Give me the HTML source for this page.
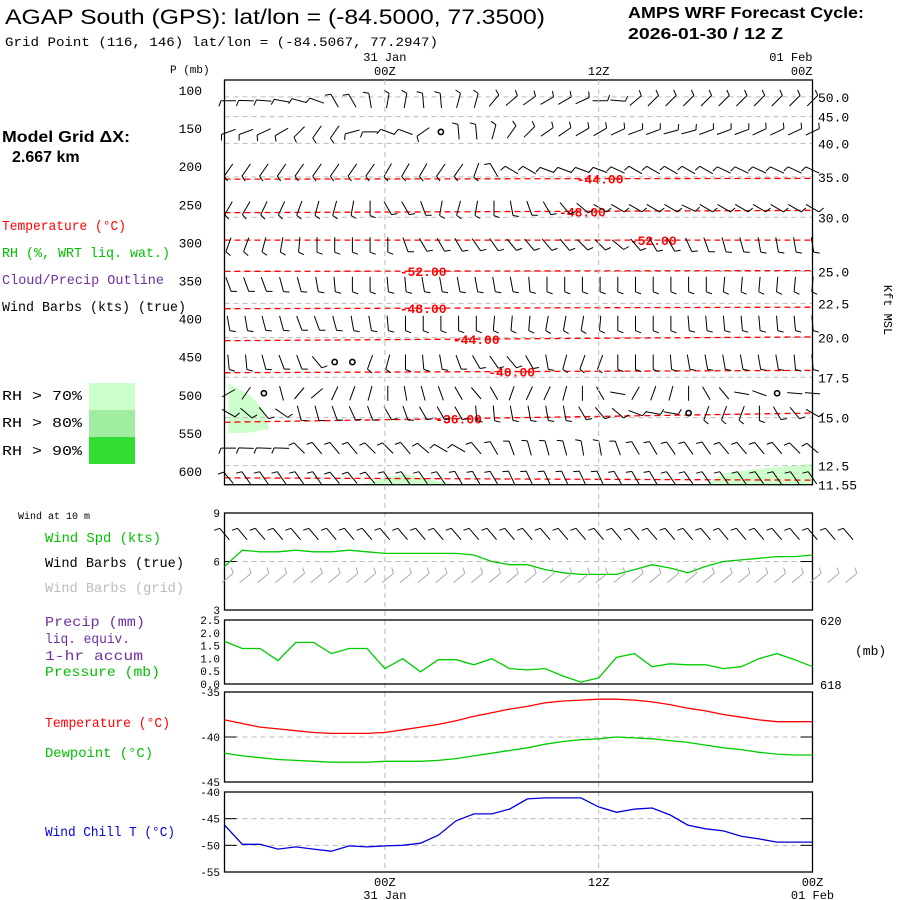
<!DOCTYPE html>
<html><head><meta charset="utf-8"><style>
html,body{margin:0;padding:0;background:#fff;}
svg{display:block;}
.m{font-family:"Liberation Mono",monospace;}
.s{font-family:"Liberation Sans",sans-serif;}
</style></head><body>
<svg id="c" width="900" height="900" viewBox="0 0 900 900" xmlns="http://www.w3.org/2000/svg">
<g>
<text class="s" x="5" y="24" font-size="21" textLength="540" lengthAdjust="spacingAndGlyphs">AGAP South (GPS):  lat/lon = (-84.5000, 77.3500)</text>
<text class="m" x="5" y="46" font-size="13" textLength="433" lengthAdjust="spacingAndGlyphs">Grid Point (116, 146) lat/lon = (-84.5067, 77.2947)</text>
<text class="s" x="628" y="18" font-size="16" font-weight="bold" textLength="236" lengthAdjust="spacingAndGlyphs">AMPS WRF Forecast Cycle:</text>
<text class="s" x="628" y="39" font-size="16" font-weight="bold" textLength="155" lengthAdjust="spacingAndGlyphs">2026-01-30 / 12  Z</text>
</g>
<g class="m" font-size="14">
<text class="s" x="2" y="142" font-size="16" font-weight="bold" textLength="128" lengthAdjust="spacingAndGlyphs">Model Grid ΔX:</text>
<text class="s" x="12" y="162" font-size="16" font-weight="bold">2.667 km</text>
<text x="2" y="230" fill="#ff0000" textLength="124" lengthAdjust="spacingAndGlyphs">Temperature (°C)</text>
<text x="2" y="257" fill="#00c000" textLength="168" lengthAdjust="spacingAndGlyphs">RH (%, WRT liq. wat.)</text>
<text x="2" y="284" fill="#7030a0" textLength="162" lengthAdjust="spacingAndGlyphs">Cloud/Precip Outline</text>
<text x="2" y="311" fill="#000" textLength="184" lengthAdjust="spacingAndGlyphs">Wind Barbs (kts) (true)</text>
<rect x="89" y="383" width="46" height="27" fill="#ccffcc"/>
<rect x="89" y="410" width="46" height="27" fill="#a0eca0"/>
<rect x="89" y="437" width="46" height="27" fill="#33dd33"/>
<text x="2" y="400" textLength="80" lengthAdjust="spacingAndGlyphs">RH &gt; 70%</text>
<text x="2" y="427" textLength="80" lengthAdjust="spacingAndGlyphs">RH &gt; 80%</text>
<text x="2" y="455" textLength="80" lengthAdjust="spacingAndGlyphs">RH &gt; 90%</text>
<text x="18" y="519" font-size="10">Wind at 10 m</text>
<text x="45" y="542" fill="#00c000" textLength="116" lengthAdjust="spacingAndGlyphs">Wind Spd (kts)</text>
<text x="45" y="567" textLength="139" lengthAdjust="spacingAndGlyphs">Wind Barbs (true)</text>
<text x="45" y="592" fill="#bbbbbb" textLength="139" lengthAdjust="spacingAndGlyphs">Wind Barbs (grid)</text>
<text x="45" y="626" fill="#7030a0" textLength="100" lengthAdjust="spacingAndGlyphs">Precip (mm)</text>
<text x="45" y="643" fill="#7030a0" textLength="85" lengthAdjust="spacingAndGlyphs">liq. equiv.</text>
<text x="45" y="660" fill="#7030a0" textLength="98" lengthAdjust="spacingAndGlyphs">1-hr accum</text>
<text x="45" y="676" fill="#00c000" textLength="115" lengthAdjust="spacingAndGlyphs">Pressure (mb)</text>
<text x="45" y="727" fill="#ff0000" textLength="125" lengthAdjust="spacingAndGlyphs">Temperature (°C)</text>
<text x="45" y="757" fill="#00c000" textLength="108" lengthAdjust="spacingAndGlyphs">Dewpoint (°C)</text>
<text x="45" y="836" fill="#0000dd" textLength="130" lengthAdjust="spacingAndGlyphs">Wind Chill T (°C)</text>
</g>
<g id="plots"></g>
</svg>
<script>
// ===== data =====
const hours = [];
for (let i = 0; i <= 33; i++) hours.push(i); // hours since 15Z 30 Jan
const timeTicks = [9, 21, 33];
const timeTickLabels = ['00Z', '12Z', '00Z'];
const dateLabels = ['31 Jan', '', '01 Feb'];

const pressureTicks = [100,150,200,250,300,350,400,450,500,550,600];
const heightLabels = ['50.0','45.0','40.0','35.0','30.0','25.0','22.5','20.0','17.5','15.0','12.5','11.55'];
const heightPressures = [109,135,170,214,267,338,380,425,477,530,593,618];

const isoTemps = [-44,-48,-52,-52,-48,-44,-40,-36,-32];
const isoPLeft = [217,261,297,338,387,429,471,536,609];
const isoPRight = [216,258,297,337,385,424,468,524,612];
const isoLabelHour = [21,20,24,11,11,14,16,13,-1];

const barbRowP = [114,155,205,255,303,355,406,457,498,524,570,609];
const barbRowTicks = [1,1,1,1,1,1,1,1,0,1,1,1];
const dir114 = [270,272,275,280,285,290,330,330,350,10,10,355,355,15,15,40,50,55,60,60,65,90,95,50,45,45,45,45,45,45,45,45,45,45];
const dir155 = [250,250,245,240,225,215,215,255,270,290,290,235,-1,355,355,15,35,45,55,55,60,60,65,70,70,75,75,70,70,70,65,65,65,65];
const dir205 = [215,215,215,215,215,215,215,215,215,210,210,210,215,215,200,330,300,300,290,290,290,290,295,300,300,300,300,300,295,295,295,295,295,295];
const dir255 = [210,210,205,205,200,195,195,190,180,150,150,160,190,195,190,180,170,160,150,140,130,120,120,120,120,120,115,120,120,120,120,120,120,120];
const dir303 = [200,200,195,190,185,180,180,180,180,180,160,150,150,150,145,145,140,140,140,140,135,135,130,140,150,150,155,160,165,165,170,170,170,170];
const dir355 = [160,160,160,165,165,170,175,180,180,175,175,170,170,170,170,170,170,175,180,180,180,180,180,180,180,180,180,180,185,185,185,185,185,185];
const dir406 = [170,170,165,165,160,160,165,170,170,175,180,180,180,180,180,185,185,185,190,190,190,185,180,180,180,180,175,175,175,175,175,175,175,175];
const dir457 = [175,175,165,160,160,140,-1,-1,200,195,180,175,170,160,150,145,140,150,170,195,200,200,180,180,180,175,170,170,170,170,170,170,175,175];
const dir498 = [240,215,-1,165,220,230,205,200,195,180,170,165,160,150,140,150,200,205,205,195,180,150,100,210,200,195,180,150,140,100,110,-1,95,95];
const dir524 = [120,130,140,125,165,165,160,155,160,150,160,150,150,150,175,175,170,170,170,170,150,140,130,110,100,100,-1,200,200,200,180,150,140,120];
const dir570 = [270,272,272,272,315,320,320,320,315,315,320,310,300,300,320,330,340,345,345,345,350,350,340,330,330,325,325,325,320,320,320,320,315,310];
const dir609 = [320,325,325,325,325,325,320,320,320,325,325,325,325,330,330,330,335,335,335,335,335,335,330,330,330,325,325,325,325,325,325,325,325,325];
const barbDirs = [dir114,dir155,dir205,dir255,dir303,dir355,dir406,dir457,dir498,dir524,dir570,dir609];

const sfcBarbHours = [0,1,2,3,4,5,6,7,8,9,10,11,12,13,14,15,16,17,18,19,20,21,22,23,24,25,26,27,28,29,30,31,32,33,34,35];
const sfcBarbDirTrue = 320;
const sfcBarbDirGrid = 50;

const windSpd = [5.7,6.7,6.6,6.6,6.7,6.6,6.6,6.7,6.6,6.5,6.5,6.5,6.5,6.5,6.4,6.0,5.8,5.8,5.5,5.3,5.2,5.2,5.2,5.5,5.8,5.6,5.3,5.7,6.0,6.1,6.2,6.3,6.3,6.4];
const pressure = [619.33,619.11,619.11,618.73,619.30,619.30,618.95,619.11,619.11,618.48,618.79,618.38,618.76,618.76,618.60,618.79,618.48,618.44,618.48,618.25,618.06,618.19,618.83,618.95,618.54,618.63,618.60,618.60,618.48,618.54,618.79,618.95,618.76,618.54];
const temp = [-38.1,-38.5,-38.9,-39.1,-39.3,-39.5,-39.6,-39.6,-39.6,-39.5,-39.2,-38.9,-38.6,-38.2,-37.7,-37.3,-36.9,-36.6,-36.2,-36.0,-35.9,-35.8,-35.8,-35.9,-36.1,-36.4,-36.8,-37.1,-37.5,-37.8,-38.1,-38.3,-38.3,-38.3];
const dewpt = [-41.8,-42.1,-42.3,-42.5,-42.6,-42.7,-42.8,-42.8,-42.8,-42.7,-42.7,-42.7,-42.6,-42.4,-42.1,-41.8,-41.5,-41.2,-40.8,-40.5,-40.3,-40.2,-40.0,-40.1,-40.2,-40.4,-40.6,-40.9,-41.2,-41.4,-41.7,-41.9,-42.0,-42.0];
const windChill = [-46.2,-49.8,-49.8,-50.7,-50.3,-50.7,-51.1,-50.1,-50.3,-50.1,-50.0,-49.6,-48.1,-45.4,-44.1,-44.1,-43.2,-41.3,-41.1,-41.1,-41.1,-42.8,-43.8,-43.2,-43.0,-44.3,-46.2,-46.9,-47.3,-48.3,-48.8,-49.4,-49.4,-49.4];

// RH > 70% regions: [hour, pressure] polygons
const rhRegion1 = [[0,485],[1.2,500],[2,520],[2.3,545],[1,550],[0,550]];
const rhRegion2 = [[7.5,618],[9,608],[10,604],[11,610],[13,618]];
const rhRegion3 = [[27,618],[28,603],[30,597],[32,593],[33,590],[33,618]];

// ===== helpers =====
const NS = 'http://www.w3.org/2000/svg';
const root = document.getElementById('plots');
const X0 = 224.5, X1 = 812.5;
const xh = h => X0 + 4 + (X1 - X0 - 4) * h / 33;
const yp = p => 90 + (p - 100) * 0.762;
function mk(tag, attrs, parent) {
  const e = document.createElementNS(NS, tag);
  for (const k in attrs) e.setAttribute(k, attrs[k]);
  (parent || root).appendChild(e);
  return e;
}
function txt(x, y, s, size, anchor, fill, parent) {
  const t = mk('text', {x: x, y: y, 'font-size': size, 'text-anchor': anchor || 'start', fill: fill || '#000', 'font-family': '"Liberation Mono", monospace'}, parent);
  t.textContent = s;
  return t;
}
function lineOf(vals, xf, yf, color, name, parent) {
  const d = vals.map((v, i) => (i ? 'L' : 'M') + xf(i).toFixed(1) + ',' + yf(v).toFixed(1)).join('');
  const p = mk('path', {d: d, fill: 'none', stroke: color, 'stroke-width': 1.3}, parent);
  
  
  return p;
}
function barb(g, x, y, d, ticks, color, name) {
  if (d < 0) {
    const c = mk('circle', {cx: x, cy: y, r: 2.6, fill: 'none', stroke: color, 'stroke-width': 1.6}, g);
    
    
    return;
  }
  const r = d * Math.PI / 180, L = 15;
  const sx = x - L / 2 * Math.sin(r), sy = y + L / 2 * Math.cos(r);
  const ex = x + L / 2 * Math.sin(r), ey = y - L / 2 * Math.cos(r);
  let dd = 'M' + sx.toFixed(1) + ',' + sy.toFixed(1) + 'L' + ex.toFixed(1) + ',' + ey.toFixed(1);
  for (let k = 0; k < ticks; k++) {
    const bx = ex - k * 3 * Math.sin(r), by = ey + k * 3 * Math.cos(r);
    const rr = r - Math.PI / 2 + 0.35;
    dd += 'M' + bx.toFixed(1) + ',' + by.toFixed(1) + 'l' + (6 * Math.sin(rr)).toFixed(1) + ',' + (-6 * Math.cos(rr)).toFixed(1);
  }
  const p = mk('path', {d: dd, fill: 'none', stroke: color, 'stroke-width': 1}, g);
  
  
}

// ===== main cross-section panel =====
const main = mk('g', {});


[rhRegion1, rhRegion2, rhRegion3].forEach((reg, i) => {
  const pg = mk('polygon', {points: reg.map(q => xh(q[0]).toFixed(1) + ',' + yp(q[1]).toFixed(1)).join(' '), fill: '#ccffcc'}, main);
  
  
});
heightPressures.forEach((p, i) => {
  const y = yp(p);
  if (i < heightPressures.length - 1) {
    const l = mk('line', {x1: X0, x2: X1, y1: y, y2: y, stroke: '#bbb', 'stroke-dasharray': '5,4', 'stroke-width': 1}, main);
    
    
  }
  const t = txt(818, y + 5, heightLabels[i], 13, 'start', '#000', main);
  
  
});
pressureTicks.forEach(p => {
  const t = txt(202, yp(p) + 5, String(p), 13, 'end', '#000', main);
  
  
});
{
  const t = txt(170, 73, 'P (mb)', 11, 'start', '#000', main);
  
  
  const k = txt(0, 0, 'Kft MSL', 12, 'middle', '#000', main);
  k.setAttribute('transform', 'translate(884,310) rotate(90)');
  
  
}
isoTemps.forEach((T, i) => {
  const l = mk('line', {x1: X0, x2: X1, y1: yp(isoPLeft[i]), y2: yp(isoPRight[i]), stroke: '#ff0000', 'stroke-dasharray': '6,4', 'stroke-width': 1.3}, main);
  
  
  if (isoLabelHour[i] >= 0) {
    const h = isoLabelHour[i];
    const y = yp(isoPLeft[i] + (isoPRight[i] - isoPLeft[i]) * h / 33);
    const t = txt(xh(h), y + 5, T.toFixed(2), 13, 'middle', '#ff0000', main);
    t.setAttribute('font-weight', 'bold');
    
    
  }
});
barbRowP.forEach((p, r) => {
  const g = mk('g', {}, main);
  
  
  barbDirs[r].forEach((d, i) => barb(g, xh(hours[i]), yp(p), d, barbRowTicks[r], '#000', 'wind-barb'));
});
{
  const b = mk('rect', {x: X0, y: 80, width: X1 - X0, height: yp(618) - 80, fill: 'none', stroke: '#000', 'stroke-width': 1.3}, main);
  
  
}

// time axis labels (top and bottom)
const xt = h => X0 + (X1 - X0) * h / 33;
timeTicks.forEach((h, i) => {
  const x = xt(h);
  const a = txt(x, 75, timeTickLabels[i], 12, i == 2 ? 'end' : 'middle', '#000');
  
  
  if (dateLabels[i]) {
    const b = txt(x, 61, dateLabels[i], 12, i == 2 ? 'end' : 'middle', '#000');
    
    
  }
  const c = txt(x, 886, timeTickLabels[i], 12, 'middle', '#000');
  
  
  if (dateLabels[i]) {
    const d = txt(x, 899, dateLabels[i], 12, 'middle', '#000');
    
    
  }
  if (i < 2) {
    const v = mk('line', {x1: x, x2: x, y1: 80, y2: 872, stroke: '#bbb', 'stroke-dasharray': '5,4', 'stroke-width': 1});
    
    
  }
});

// ===== lower panels =====
function panel(name, top, bot, min, max, ticks, tickLabels, grid) {
  const g = mk('g', {});
  
  
  const y = v => bot - (v - min) / (max - min) * (bot - top);
  grid.forEach(v => {
    const l = mk('line', {x1: X0, x2: X1, y1: y(v), y2: y(v), stroke: '#bbb', 'stroke-dasharray': '5,4'}, g);
    
    
    const t1 = mk('line', {x1: X0, x2: X0 + 12, y1: y(v), y2: y(v), stroke: '#000'}, g);
    
    
    const t2 = mk('line', {x1: X1 - 12, x2: X1, y1: y(v), y2: y(v), stroke: '#000'}, g);
    
    
  });
  ticks.forEach((v, i) => {
    const t = txt(220, y(v) + 4, tickLabels[i], 11, 'end', '#000', g);
    
    
  });
  const f = mk('rect', {x: X0, y: top, width: X1 - X0, height: bot - top, fill: 'none', stroke: '#000', 'stroke-width': 1.3}, g);
  
  
  return {g: g, y: y};
}
const wp = panel('wind-panel', 513, 610, 3, 9, [9, 6, 3], ['9', '6', '3'], [6]);
lineOf(windSpd, i => xt(hours[i]), wp.y, '#00cc00', 'wind-speed-line', wp.g);
sfcBarbHours.forEach(h => {
  barb(wp.g, xt(h), 534, sfcBarbDirTrue, 1, '#000', 'sfc-wind-barb-true');
  barb(wp.g, xt(h) + 3, 578, sfcBarbDirGrid, 1, '#aaa', 'sfc-wind-barb-grid');
});

const pp = panel('precip-pressure-panel', 620, 684, 0, 2.5, [2.5, 2.0, 1.5, 1.0, 0.5, 0.0], ['2.5', '2.0', '1.5', '1.0', '0.5', '0.0'], []);
const ypr = v => 684 - (v - 618) / 2 * 64;
lineOf(pressure, i => xt(hours[i]), ypr, '#00cc00', 'pressure-line', pp.g);
[[620, '620'], [618, '618']].forEach(q => {
  const t = txt(820, ypr(q[0]) + 5, q[1], 12, 'start', '#000', pp.g);
  
  
});
{
  const t = txt(855, 655, '(mb)', 13, 'start', '#000', pp.g);
  
  
}

const tp = panel('temperature-panel', 692, 782, -45, -35, [-35, -40, -45], ['-35', '-40', '-45'], [-40]);
lineOf(temp, i => xt(hours[i]), tp.y, '#ff0000', 'temperature-line', tp.g);
lineOf(dewpt, i => xt(hours[i]), tp.y, '#00cc00', 'dewpoint-line', tp.g);

const cp = panel('wind-chill-panel', 792, 872, -55, -40, [-40, -45, -50, -55], ['-40', '-45', '-50', '-55'], [-45, -50]);
lineOf(windChill, i => xt(hours[i]), cp.y, '#0000dd', 'wind-chill-line', cp.g);
</script>
</body></html>
